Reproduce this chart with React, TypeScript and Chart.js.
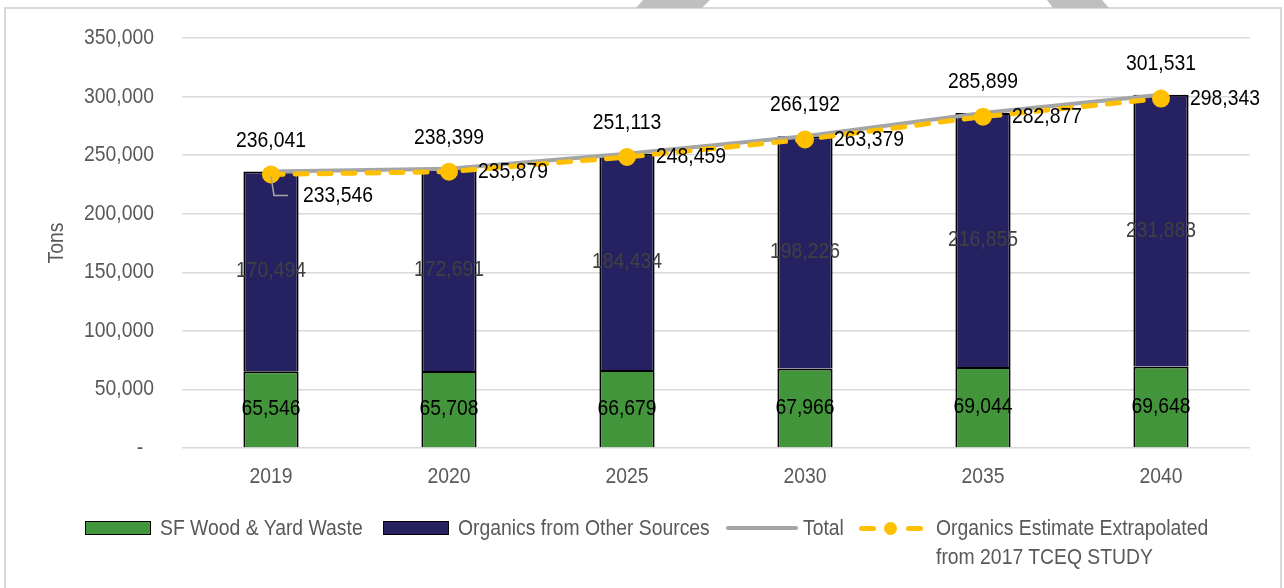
import React, { useEffect, useRef } from "react";
import { Chart, registerables } from "chart.js";

Chart.register(...registerables);

const categories = ["2019", "2020", "2025", "2030", "2035", "2040"];
const sfWoodYard = [65546, 65708, 66679, 67966, 69044, 69648];
const otherOrganics = [170494, 172691, 184434, 198226, 216855, 231883];
const totals = [236041, 238399, 251113, 266192, 285899, 301531];
const tceqEstimate = [233546, 235879, 248459, 263379, 282877, 298343];
const yTicks = [0, 50000, 100000, 150000, 200000, 250000, 300000, 350000];

const seriesNames = [
  "SF Wood & Yard Waste",
  "Organics from Other Sources",
  "Total",
  "Organics Estimate Extrapolated from 2017 TCEQ STUDY",
];
const yTitle = "Tons";

const FONT = "'Liberation Sans', Arial, sans-serif";
const SQUEEZE = 0.88;
const GREEN = "#43953B";
const NAVY = "#262262";
const GRAY_LINE = "#A5A5A5";
const YELLOW = "#FFC000";
const TEXT_GRAY = "#595959";

const fmt = (v: number) => v.toLocaleString("en-US");

function drawText(ctx: CanvasRenderingContext2D, text: string, x: number, y: number, align: CanvasTextAlign) {
  ctx.save();
  ctx.translate(x, y);
  ctx.scale(SQUEEZE, 1);
  ctx.textAlign = align;
  ctx.fillText(text, 0, 0);
  ctx.restore();
}

const axisTextPlugin = {
  id: "axisText",
  afterDraw(chart: any) {
    const ctx = chart.ctx as CanvasRenderingContext2D;
    const xs = chart.scales.x;
    const ys = chart.scales.y;
    ctx.save();
    ctx.font = `22px ${FONT}`;
    ctx.textBaseline = "middle";
    ctx.fillStyle = TEXT_GRAY;
    ys.ticks.forEach((t: any) => {
      const label = t.value === 0 ? "-  " : fmt(t.value);
      drawText(ctx, label, ys.right - 28, ys.getPixelForValue(t.value), "right");
    });
    categories.forEach((c, i) => {
      drawText(ctx, c, xs.getPixelForTick(i), xs.top + 29, "center");
    });
    ctx.save();
    ctx.translate(57, (chart.chartArea.top + chart.chartArea.bottom) / 2);
    ctx.rotate(-Math.PI / 2);
    drawText(ctx, yTitle, 0, 0, "center");
    ctx.restore();
    ctx.restore();
  },
};

const labelsPlugin = {
  id: "valueLabels",
  afterDatasetsDraw(chart: any) {
    const ctx = chart.ctx as CanvasRenderingContext2D;
    ctx.save();
    ctx.font = `22px ${FONT}`;
    ctx.textBaseline = "middle";
    [0, 1].forEach((di) => {
      const meta = chart.getDatasetMeta(di);
      const data = chart.data.datasets[di].data as number[];
      ctx.fillStyle = di === 0 ? "#000000" : "#404040";
      meta.data.forEach((el: any, i: number) => {
        drawText(ctx, fmt(data[i]), el.x, (el.y + el.base) / 2, "center");
      });
    });
    {
      const meta = chart.getDatasetMeta(2);
      const data = chart.data.datasets[2].data as number[];
      ctx.fillStyle = "#000000";
      meta.data.forEach((el: any, i: number) => {
        drawText(ctx, fmt(data[i]), el.x, el.y - 31, "center");
      });
    }
    {
      const meta = chart.getDatasetMeta(3);
      const data = chart.data.datasets[3].data as number[];
      ctx.fillStyle = "#000000";
      meta.data.forEach((el: any, i: number) => {
        if (i === 0) {
          ctx.strokeStyle = "#A6A6A6";
          ctx.lineWidth = 1.5;
          ctx.beginPath();
          ctx.moveTo(el.x, el.y + 2);
          ctx.lineTo(el.x + 3, el.y + 21);
          ctx.lineTo(el.x + 17, el.y + 21);
          ctx.stroke();
          drawText(ctx, fmt(data[i]), el.x + 32, el.y + 22, "left");
        } else {
          drawText(ctx, fmt(data[i]), el.x + 29, el.y, "left");
        }
      });
    }
    ctx.restore();
  },
};

function Legend() {
  const textStyle: React.CSSProperties = {
    position: "absolute",
    fontFamily: FONT,
    fontSize: 22,
    color: TEXT_GRAY,
    lineHeight: "29px",
    whiteSpace: "nowrap",
    transform: `scaleX(${SQUEEZE})`,
    transformOrigin: "left center",
  };
  const box = (left: number, color: string): React.CSSProperties => ({
    position: "absolute",
    left,
    top: 521,
    width: 64,
    height: 12,
    background: color,
    border: "1.5px solid #000",
  });
  return (
    <>
      <div style={box(85, GREEN)} />
      <div style={{ ...textStyle, left: 160, top: 513 }}>{seriesNames[0]}</div>
      <div style={box(383, NAVY)} />
      <div style={{ ...textStyle, left: 458, top: 513 }}>{seriesNames[1]}</div>
      <div
        style={{
          position: "absolute",
          left: 726,
          top: 526,
          width: 72,
          height: 4,
          borderRadius: 2,
          background: GRAY_LINE,
        }}
      />
      <div style={{ ...textStyle, left: 803, top: 513 }}>{seriesNames[2]}</div>
      <div style={{ position: "absolute", left: 859, top: 526, width: 17, height: 5, borderRadius: 3, background: YELLOW }} />
      <div style={{ position: "absolute", left: 884, top: 522, width: 13, height: 13, borderRadius: 7, background: YELLOW }} />
      <div style={{ position: "absolute", left: 906, top: 526, width: 17, height: 5, borderRadius: 3, background: YELLOW }} />
      <div style={{ ...textStyle, left: 936, top: 513 }}>
        Organics Estimate Extrapolated
        <br />
        from 2017 TCEQ STUDY
      </div>
    </>
  );
}

export default function App() {
  const canvasRef = useRef<HTMLCanvasElement | null>(null);

  useEffect(() => {
    if (!canvasRef.current) return;
    const chart = new Chart(canvasRef.current, {
      type: "bar",
      data: {
        labels: categories,
        datasets: [
          {
            type: "bar",
            label: seriesNames[0],
            data: sfWoodYard,
            backgroundColor: GREEN,
            borderColor: "#000000",
            borderWidth: 2,
            stack: "bars",
            order: 2,
            barPercentage: 0.31,
            categoryPercentage: 1,
          },
          {
            type: "bar",
            label: seriesNames[1],
            data: otherOrganics,
            backgroundColor: NAVY,
            borderColor: "#000000",
            borderWidth: 2,
            stack: "bars",
            order: 3,
            barPercentage: 0.31,
            categoryPercentage: 1,
          },
          {
            type: "line",
            label: seriesNames[2],
            data: totals,
            borderColor: GRAY_LINE,
            borderWidth: 4,
            pointRadius: 0,
            tension: 0,
            stack: "total",
            order: 1,
          } as any,
          {
            type: "line",
            label: seriesNames[3],
            data: tceqEstimate,
            borderColor: YELLOW,
            borderWidth: 5,
            borderDash: [12, 12],
            borderCapStyle: "round",
            pointRadius: 6.5,
            pointBackgroundColor: YELLOW,
            pointBorderColor: YELLOW,
            tension: 0,
            stack: "estimate",
            order: 0,
          } as any,
        ],
      },
      options: {
        animation: false,
        responsive: false,
        devicePixelRatio: 1,
        layout: { padding: { left: 0, top: 38, right: 34, bottom: 0 } },
        plugins: {
          legend: { display: false },
          tooltip: { enabled: false },
        },
        scales: {
          x: {
            stacked: true,
            grid: { display: false, drawTicks: false },
            border: { display: false },
            ticks: { display: false },
            afterFit: (scale: any) => {
              scale.height = 140;
            },
          },
          y: {
            stacked: true,
            min: 0,
            max: 350000,
            grid: { color: "#D9D9D9", lineWidth: 1.5, drawTicks: false },
            border: { display: false },
            afterBuildTicks: (scale: any) => {
              scale.ticks = yTicks.map((v) => ({ value: v }));
            },
            ticks: { display: false },
            afterFit: (scale: any) => {
              scale.width = 182;
            },
          },
        },
      },
      plugins: [labelsPlugin, axisTextPlugin],
    });
    return () => chart.destroy();
  }, []);

  return (
    <div
      style={{
        position: "absolute",
        left: 0,
        top: 0,
        width: 1284,
        height: 588,
        background: "#ffffff",
        overflow: "hidden",
      }}
    >
      <div
        style={{
          position: "absolute",
          left: 4,
          top: 7,
          width: 1274,
          height: 620,
          border: "2px solid #D9D9D9",
        }}
      />
      <div
        style={{
          position: "absolute",
          left: 636,
          top: 0,
          width: 74,
          height: 8,
          background: "#BFBFBF",
          clipPath: "polygon(7px 0, 74px 0, 66px 8px, 0 8px)",
        }}
      />
      <div
        style={{
          position: "absolute",
          left: 1047,
          top: 0,
          width: 62,
          height: 8,
          background: "#BFBFBF",
          clipPath: "polygon(0 0, 55px 0, 62px 8px, 6px 8px)",
        }}
      />
      <canvas
        ref={canvasRef}
        width={1284}
        height={588}
        style={{ position: "absolute", left: 0, top: 0, width: 1284, height: 588 }}
      />
      <Legend />
    </div>
  );
}
